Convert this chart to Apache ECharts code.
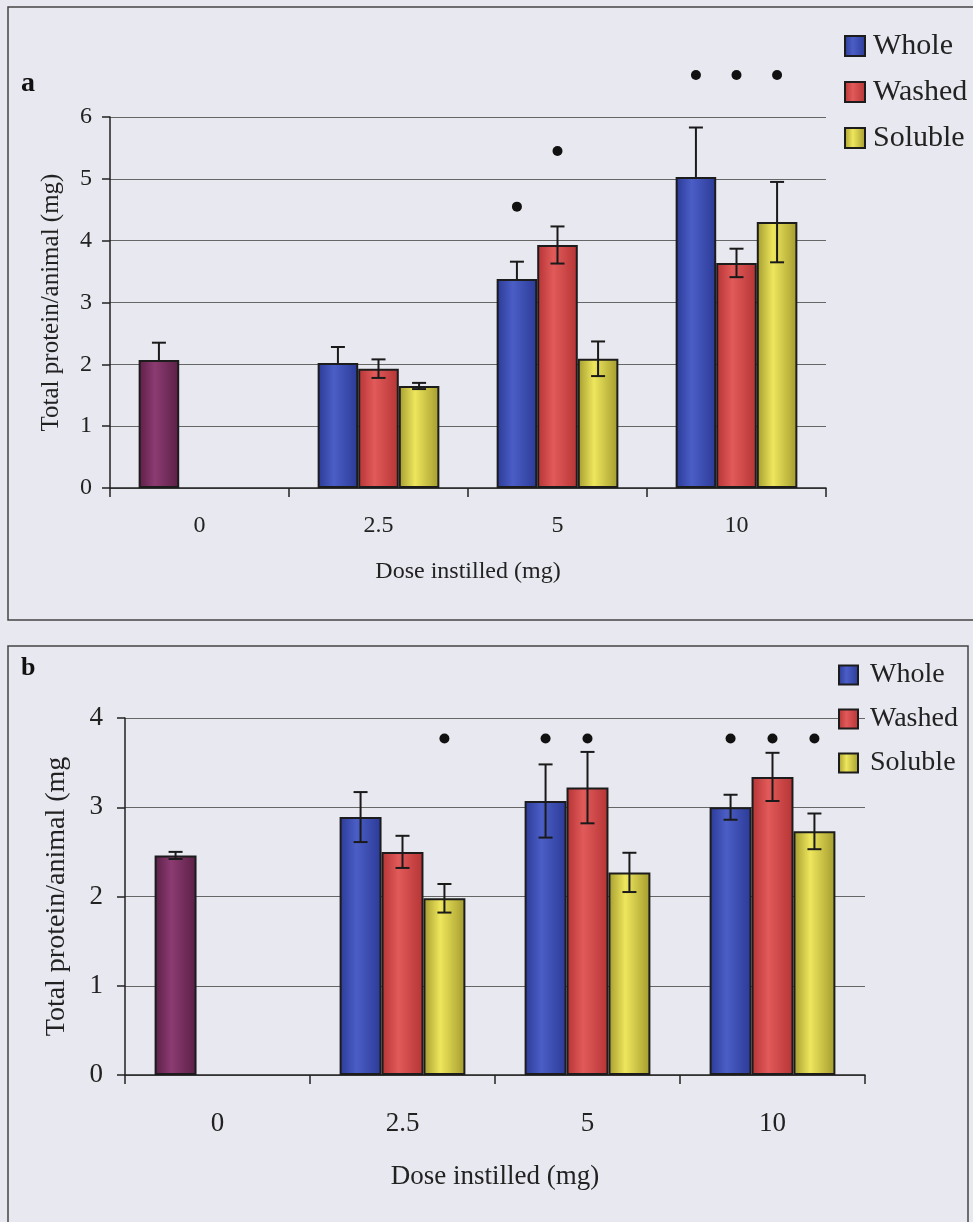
<!DOCTYPE html>
<html><head><meta charset="utf-8">
<script src="https://cdn.jsdelivr.net/npm/echarts@6/dist/echarts.min.js"></script>
<style>html,body{margin:0;padding:0;background:#e8e8f0;} #c{width:973px;height:1222px;}</style>
</head><body><div id="c"></div>
<script>
const categories = ['0', '2.5', '5', '10'];
const seriesNames = ['Whole', 'Washed', 'Soluble'];
// Panel a values (mg)
const aWhole = [2.07, 2.02, 3.38, 5.03];
const aWashed = [null, 1.93, 3.93, 3.64];
const aSoluble = [null, 1.65, 2.09, 4.30];
const aWholeErr = [0.28, 0.26, 0.28, 0.80];
const aWashedErr = [null, 0.15, 0.30, 0.23];
const aSolubleErr = [null, 0.05, 0.28, 0.65];
// significance dots: [category index, bar slot, height]
const aMarks = [[2, 0, 4.55], [2, 1, 5.45], [3, 0, 6.68], [3, 1, 6.68], [3, 2, 6.68]];
// Panel b values (mg)
const bWhole = [2.46, 2.89, 3.07, 3.00];
const bWashed = [null, 2.50, 3.22, 3.34];
const bSoluble = [null, 1.98, 2.27, 2.73];
const bWholeErr = [0.04, 0.28, 0.41, 0.14];
const bWashedErr = [null, 0.18, 0.40, 0.27];
const bSolubleErr = [null, 0.16, 0.22, 0.20];
const bMarks = [[1, 2, 3.77], [2, 0, 3.77], [2, 1, 3.77], [3, 0, 3.77], [3, 1, 3.77], [3, 2, 3.77]];
const aYTicks = [0, 6, 1];
const bYTicks = [0, 4, 1];

const FONT = "'Liberation Serif', 'Times New Roman', serif";
const GAP = 0.32;
const LG = echarts.graphic.LinearGradient;
function grad(edge, mid) { return new LG(0, 0, 1, 0, [{offset: 0, color: edge}, {offset: 0.4, color: mid}, {offset: 1, color: edge}]); }
const colBlue = grad('#2b3a96', '#4b5ec6');
const colRed = grad('#b53434', '#e25a5a');
const colYellow = grad('#a39b2e', '#eee65c');
const colPurple = grad('#5a1f45', '#8c3b72');
const BORDER = {borderColor: '#1c1c1c', borderWidth: 2};

function slotOffset(api, slot) {
  const bw = api.size([1, 0])[0];
  return (slot - 1) * bw * (1 - GAP) / 3;
}
function errRender(params, api) {
  const cat = api.value(0), slot = api.value(1), v = api.value(2), up = api.value(3), dn = api.value(4);
  const off = slotOffset(api, slot);
  const t = api.coord([cat, v + up]);
  const b = api.coord([cat, v - dn]);
  const x = t[0] + off;
  const st = {stroke: '#1a1a1a', lineWidth: 2};
  const ch = [
    {type: 'line', shape: {x1: x, y1: t[1], x2: x, y2: b[1]}, style: st},
    {type: 'line', shape: {x1: x - 7, y1: t[1], x2: x + 7, y2: t[1]}, style: st}
  ];
  if (dn > 0) ch.push({type: 'line', shape: {x1: x - 7, y1: b[1], x2: x + 7, y2: b[1]}, style: st});
  return {type: 'group', children: ch};
}
function dotRender(params, api) {
  const cat = api.value(0), slot = api.value(1), v = api.value(2);
  const p = api.coord([cat, v]);
  return {type: 'circle', shape: {cx: p[0] + slotOffset(api, slot), cy: p[1], r: 5}, style: {fill: '#111'}};
}
function errData(vals, errs, plusOnly) {
  const out = [];
  vals.forEach((arr, s) => arr.forEach((v, i) => {
    if (v != null && errs[s][i] != null) out.push([i, s, v, errs[s][i], plusOnly[s] ? 0 : errs[s][i]]);
  }));
  return out;
}
function clean(arr) { return arr.map(v => v == null ? '-' : v); }
function wholeData(arr) { return arr.map((v, i) => i === 0 ? {value: v, itemStyle: {color: colPurple}} : v); }

function panelSeries(k, whole, washed, soluble, errs, plusOnly, marks) {
  return [
    {name: 'Whole', type: 'bar', xAxisIndex: k, yAxisIndex: k, data: wholeData(whole), barGap: '0%', barCategoryGap: (GAP * 100) + '%', itemStyle: Object.assign({color: colBlue}, BORDER)},
    {name: 'Washed', type: 'bar', xAxisIndex: k, yAxisIndex: k, data: clean(washed), barGap: '0%', barCategoryGap: (GAP * 100) + '%', itemStyle: Object.assign({color: colRed}, BORDER)},
    {name: 'Soluble', type: 'bar', xAxisIndex: k, yAxisIndex: k, data: clean(soluble), barGap: '0%', barCategoryGap: (GAP * 100) + '%', itemStyle: Object.assign({color: colYellow}, BORDER)},
    {type: 'custom', xAxisIndex: k, yAxisIndex: k, renderItem: errRender, data: errData([whole, washed, soluble], errs, plusOnly), encode: {x: 0, y: 2}, z: 10, silent: true},
    {type: 'custom', xAxisIndex: k, yAxisIndex: k, renderItem: dotRender, data: marks, encode: {x: 0, y: 2}, z: 10, silent: true}
  ];
}

function xAxis(k, fs, margin, nameGap) {
  return {type: 'category', gridIndex: k, data: categories,
    axisLine: {lineStyle: {color: '#222', width: 1.5}},
    axisTick: {show: true, length: 9, lineStyle: {color: '#222', width: 1.5}},
    axisLabel: {fontFamily: FONT, fontSize: fs, color: '#222', margin: margin},
    name: 'Dose instilled (mg)', nameLocation: 'middle', nameGap: nameGap,
    nameTextStyle: {fontFamily: FONT, fontSize: fs, color: '#222'}};
}
function yAxis(k, ticks, fs, margin, name, nameGap, nfs) {
  return {type: 'value', gridIndex: k, min: ticks[0], max: ticks[1], interval: ticks[2],
    axisLine: {show: true, lineStyle: {color: '#222', width: 1.5}},
    axisTick: {show: true, length: 8, lineStyle: {color: '#222', width: 1.5}},
    axisLabel: {fontFamily: FONT, fontSize: fs, color: '#222', margin: margin},
    splitLine: {lineStyle: {color: '#666', width: 1}},
    name: name, nameLocation: 'middle', nameRotate: 90, nameGap: nameGap,
    nameTextStyle: {fontFamily: FONT, fontSize: nfs, color: '#222'}};
}

const chart = echarts.init(document.getElementById('c'));
chart.setOption({
  backgroundColor: 'transparent',
  animation: false,
  title: [
    {text: 'a', left: 16, top: 65, textStyle: {fontFamily: FONT, fontSize: 28, fontWeight: 'bold', color: '#111'}},
    {text: 'b', left: 16, top: 650, textStyle: {fontFamily: FONT, fontSize: 26, fontWeight: 'bold', color: '#111'}}
  ],
  legend: [
    {data: seriesNames, orient: 'vertical', left: 844, top: 31, padding: 0, itemWidth: 20, itemHeight: 20, itemGap: 16, icon: 'rect',
      textStyle: {fontFamily: FONT, fontSize: 30, color: '#222', lineHeight: 30, padding: [0, 0, 0, 3]}, selectedMode: false},
    {data: seriesNames, orient: 'vertical', left: 838, top: 661, padding: 0, itemWidth: 19, itemHeight: 19, itemGap: 16, icon: 'rect',
      textStyle: {fontFamily: FONT, fontSize: 28, color: '#222', lineHeight: 28, padding: [0, 0, 0, 7]}, selectedMode: false}
  ],
  grid: [
    {left: 110, top: 117, width: 716, height: 371},
    {left: 125, top: 718, width: 740, height: 357}
  ],
  xAxis: [xAxis(0, 24, 26, 72), xAxis(1, 27, 35, 88)],
  yAxis: [yAxis(0, aYTicks, 24, 18, 'Total protein/animal (mg)', 46, 25), yAxis(1, bYTicks, 27, 22, 'Total protein/animal (mg', 54, 28)],
  graphic: [
    {type: 'rect', shape: {x: 8, y: 7, width: 990, height: 613}, style: {fill: 'none', stroke: '#444', lineWidth: 1.5}, silent: true},
    {type: 'rect', shape: {x: 8, y: 646, width: 960, height: 600}, style: {fill: 'none', stroke: '#444', lineWidth: 1.5}, silent: true}
  ],
  series: [].concat(
    panelSeries(0, aWhole, aWashed, aSoluble, [aWholeErr, aWashedErr, aSolubleErr], [true, false, false], aMarks),
    panelSeries(1, bWhole, bWashed, bSoluble, [bWholeErr, bWashedErr, bSolubleErr], [false, false, false], bMarks)
  )
});
</script></body></html>
